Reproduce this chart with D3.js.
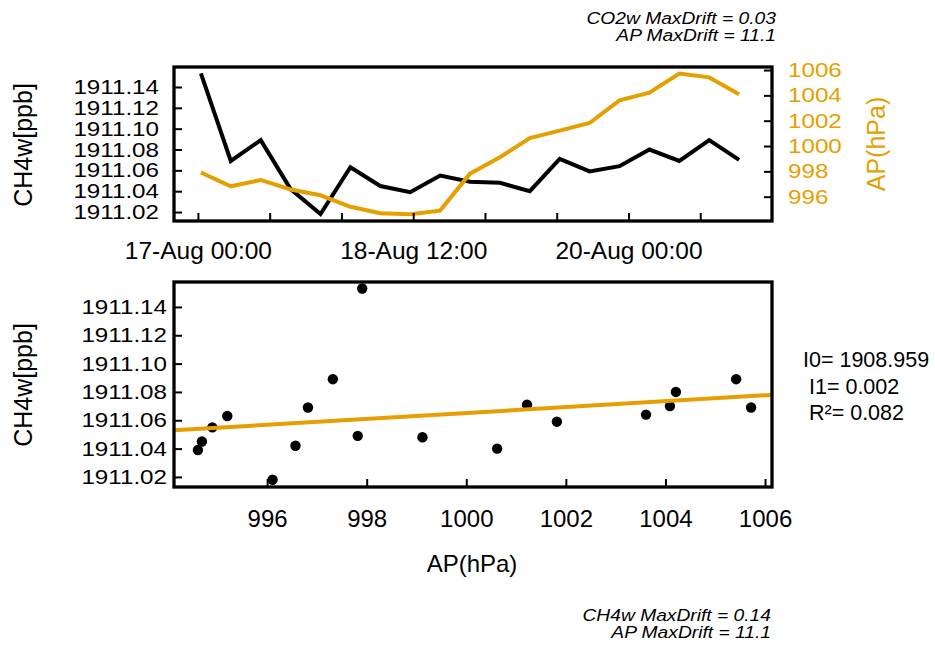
<!DOCTYPE html>
<html>
<head>
<meta charset="utf-8">
<script src="https://cdn.jsdelivr.net/npm/d3@7"></script>
<style>
  body { margin: 0; background: #fff; }
  svg { display: block; font-family: "Liberation Sans", Arial, sans-serif; }
</style>
</head>
<body>
<svg id="chart" width="935" height="646"></svg>
<script>
// hourly means
const times = [
  '2021-08-17T00:30', '2021-08-17T05:30', '2021-08-17T10:30', '2021-08-17T15:30', '2021-08-17T20:30',
  '2021-08-18T01:30', '2021-08-18T06:30', '2021-08-18T11:30', '2021-08-18T16:30', '2021-08-18T21:30',
  '2021-08-19T02:30', '2021-08-19T07:30', '2021-08-19T12:30', '2021-08-19T17:30', '2021-08-19T22:30',
  '2021-08-20T03:30', '2021-08-20T08:30', '2021-08-20T13:30', '2021-08-20T18:30'
]
const ch4w = [
  1911.153, 1911.069, 1911.089, 1911.042, 1911.018, 1911.063, 1911.045, 1911.039, 1911.055, 1911.049,
  1911.048, 1911.040, 1911.071, 1911.059, 1911.064, 1911.080, 1911.069, 1911.089, 1911.070
]
const ap = [
  997.91, 996.82, 997.32, 996.57, 996.11, 995.20, 994.69, 994.61, 994.90, 997.82,
  999.12, 1000.62, 1001.22, 1001.82, 1003.61, 1004.21, 1005.72, 1005.42, 1004.09
]

const timeTicks = [
  '2021-08-17T00:00', '2021-08-17T12:00', '2021-08-18T00:00', '2021-08-18T12:00',
  '2021-08-19T00:00', '2021-08-19T12:00', '2021-08-20T00:00', '2021-08-20T12:00'
]
const timeTickLabels = ['17-Aug 00:00', '', '', '18-Aug 12:00', '', '', '20-Aug 00:00', '']
const ch4Ticks = [1911.02, 1911.04, 1911.06, 1911.08, 1911.10, 1911.12, 1911.14]
const apTicks = [996, 998, 1000, 1002, 1004, 1006]
const statsLabels = ['I0= 1908.959', ' I1= 0.002', ' R²= 0.082']
const topNote = ['CO2w MaxDrift = 0.03', 'AP MaxDrift = 11.1']
const bottomNote = ['CH4w MaxDrift = 0.14', 'AP MaxDrift = 11.1']

const ORANGE = '#E69F00'
const SX = 1.18 // the vertical-axis labels are drawn a bit wider than tall

const parse = d3.utcParse('%Y-%m-%dT%H:%M')
const data = times.map((t, i) => ({ date: parse(t), ch4: ch4w[i], ap: ap[i] }))

const svg = d3.select('#chart')

const pA = { x0: 174, x1: 772, y0: 67, y1: 221 }
const pB = { x0: 174, x1: 772, y0: 282, y1: 487 }

const xTime = d3.scaleUtc()
  .domain([parse('2021-08-16T20:00'), parse('2021-08-21T00:00')])
  .range([pA.x0, pA.x1])
const yCh4A = d3.scaleLinear().domain([1911.0114, 1911.1592]).range([pA.y1, pA.y0])
const yApA = d3.scaleLinear().domain([994.08, 1006.24]).range([pA.y1, pA.y0])
const xAp = d3.scaleLinear().domain([994.13, 1006.14]).range([pB.x0, pB.x1])
const yCh4B = d3.scaleLinear().domain([1911.0129, 1911.1576]).range([pB.y1, pB.y0])

function styleAxis (g, size, stretch, color) {
  g.attr('font-size', null).attr('font-family', null)
  g.select('.domain').remove()
  g.selectAll('.tick line').attr('stroke', '#000').attr('stroke-width', 2)
  const t = g.selectAll('.tick text')
    .style('font-size', size + 'px')
    .attr('fill', color || '#000')
  if (stretch) t.attr('transform', `scale(${SX},1)`)
}

// ---- top panel: time series ----
const lineCh4 = d3.line().x(d => xTime(d.date)).y(d => yCh4A(d.ch4))
const lineAp = d3.line().x(d => xTime(d.date)).y(d => yApA(d.ap))

svg.append('path').datum(data)
  .attr('d', lineCh4)
  .attr('fill', 'none').attr('stroke', '#000').attr('stroke-width', 4)
svg.append('path').datum(data)
  .attr('d', lineAp)
  .attr('fill', 'none').attr('stroke', ORANGE).attr('stroke-width', 4)

svg.append('g')
  .attr('transform', `translate(${pA.x0},0)`)
  .call(d3.axisLeft(yCh4A).tickValues(ch4Ticks).tickFormat(d3.format('.2f'))
    .tickSizeInner(-8).tickSizeOuter(0).tickPadding(15 / SX))
  .call(g => styleAxis(g, 20.5, true))

svg.append('g')
  .attr('transform', `translate(${pA.x1},0)`)
  .call(d3.axisRight(yApA).tickValues(apTicks).tickFormat(d3.format('d'))
    .tickSizeInner(-8).tickSizeOuter(0).tickPadding(16 / SX))
  .call(g => styleAxis(g, 20.5, true, ORANGE))

svg.append('g')
  .attr('transform', `translate(0,${pA.y1})`)
  .call(d3.axisBottom(xTime).tickValues(timeTicks.map(parse)).tickFormat((d, i) => timeTickLabels[i])
    .tickSizeInner(-8).tickSizeOuter(0).tickPadding(21))
  .call(g => styleAxis(g, 24.5, false))

svg.append('rect')
  .attr('x', pA.x0).attr('y', pA.y0)
  .attr('width', pA.x1 - pA.x0).attr('height', pA.y1 - pA.y0)
  .attr('fill', 'none').attr('stroke', '#000').attr('stroke-width', 3.3)

svg.append('text')
  .attr('transform', 'translate(32,145) rotate(-90)')
  .attr('text-anchor', 'middle').style('font-size', '25px')
  .text('CH4w[ppb]')
svg.append('text')
  .attr('transform', 'translate(885,144) rotate(-90)')
  .attr('text-anchor', 'middle').style('font-size', '25px')
  .attr('fill', ORANGE)
  .text('AP(hPa)')

// ---- bottom panel: CH4w vs AP ----
svg.append('g').selectAll('circle')
  .data(data)
  .join('circle')
  .attr('cx', d => xAp(d.ap))
  .attr('cy', d => yCh4B(d.ch4))
  .attr('r', 5.2)
  .attr('fill', '#000')

// least squares fit of ch4w on ap
const mx = d3.mean(data, d => d.ap)
const my = d3.mean(data, d => d.ch4)
const slope = d3.sum(data, d => (d.ap - mx) * (d.ch4 - my)) / d3.sum(data, d => (d.ap - mx) ** 2)
const icpt = my - slope * mx
const fitLine = xAp.domain().map(x => [x, icpt + slope * x])

svg.append('path').datum(fitLine)
  .attr('d', d3.line().x(d => xAp(d[0])).y(d => yCh4B(d[1])))
  .attr('fill', 'none').attr('stroke', ORANGE).attr('stroke-width', 4)

svg.append('g')
  .attr('transform', `translate(${pB.x0},0)`)
  .call(d3.axisLeft(yCh4B).tickValues(ch4Ticks).tickFormat(d3.format('.2f'))
    .tickSizeInner(-8).tickSizeOuter(0).tickPadding(7 / SX))
  .call(g => styleAxis(g, 20.5, true))

svg.append('g')
  .attr('transform', `translate(0,${pB.y1})`)
  .call(d3.axisBottom(xAp).tickValues(apTicks).tickFormat(d3.format('d'))
    .tickSizeInner(-8).tickSizeOuter(0).tickPadding(23))
  .call(g => styleAxis(g, 24, false))

svg.append('rect')
  .attr('x', pB.x0).attr('y', pB.y0)
  .attr('width', pB.x1 - pB.x0).attr('height', pB.y1 - pB.y0)
  .attr('fill', 'none').attr('stroke', '#000').attr('stroke-width', 3.3)

svg.append('text')
  .attr('transform', 'translate(32,385) rotate(-90)')
  .attr('text-anchor', 'middle').style('font-size', '25px')
  .text('CH4w[ppb]')
svg.append('text')
  .attr('x', 472).attr('y', 572)
  .attr('text-anchor', 'middle').style('font-size', '24px')
  .text('AP(hPa)')

svg.append('g').selectAll('text')
  .data(statsLabels)
  .join('text')
  .attr('x', 803)
  .attr('y', (d, i) => 367 + i * 26.5)
  .style('font-size', '21.5px')
  .style('white-space', 'pre')
  .text(d => d)

// ---- drift notes ----
function note (lines, x, y) {
  svg.append('g').selectAll('g')
    .data(lines)
    .join('g')
    .attr('transform', (d, i) => `translate(${x},${y + i * 17}) scale(1.18,1)`)
    .append('text')
    .attr('text-anchor', 'end')
    .style('font-size', '16.3px')
    .style('font-style', 'italic')
    .text(d => d)
}
note(topNote, 776, 24)
note(bottomNote, 771, 621)
</script>
</body>
</html>
